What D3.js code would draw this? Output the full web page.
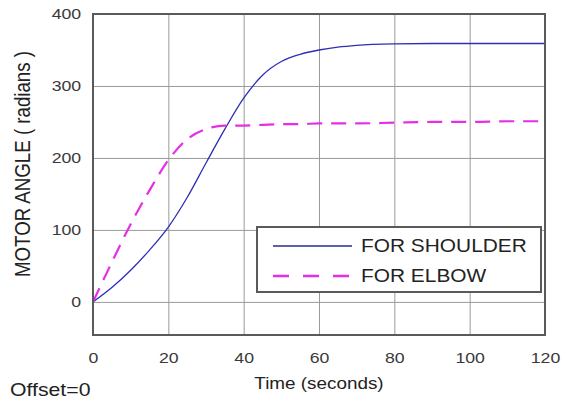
<!DOCTYPE html>
<html>
<head>
<meta charset="utf-8">
<script src="https://cdn.jsdelivr.net/npm/d3@7"></script>
<style>
  body { margin: 0; background: #fff; }
  svg { display: block; font-family: "Liberation Sans", Arial, sans-serif; }
  .grid line { stroke: #9a9a9a; stroke-width: 1; }
  .grid path { display: none; }
  .axis path, .axis line { display: none; }
  .axis text { fill: #3a3a3a; font-size: 15px; }
</style>
</head>
<body>
<svg id="chart"></svg>
<script>
// Data
const time     = [0, 5, 10, 15, 20, 25, 30, 35, 40, 45, 50, 55, 60, 65, 70, 80, 90, 100, 110, 120];
const shoulder = [0, 20, 44, 72, 104, 145, 193, 240, 283, 315, 334, 344, 350, 354, 356.5, 358.5, 359, 359, 359, 359];
const elbow    = [0, 55, 108, 155, 197, 226, 240, 245, 245, 246, 247, 247, 248, 248, 248, 249, 250, 250, 251, 251];
const xTicks = [0, 20, 40, 60, 80, 100, 120];
const yTicks = [0, 100, 200, 300, 400];
const seriesNames = ['FOR SHOULDER', 'FOR ELBOW'];

const config = {
  width: 571, height: 400,
  margin: {top: 14, right: 26, bottom: 65, left: 93}
};
const stretch = 1.18; // text in the picture is a bit wide

const svg = d3.select('#chart')
    .attr('width', config.width)
    .attr('height', config.height);

const w = config.width - config.margin.left - config.margin.right;
const h = config.height - config.margin.top - config.margin.bottom;

const chart = svg.append('g')
    .attr('transform', `translate(${config.margin.left},${config.margin.top})`);

const xScale = d3.scaleLinear().domain([0, 120]).range([0, w]);
const yScale = d3.scaleLinear().domain([-46, 400]).range([h, 0]);

// grid
chart.append('g')
    .attr('class', 'grid')
    .attr('transform', `translate(0,${h})`)
    .call(d3.axisBottom(xScale).tickValues(xTicks).tickSize(-h).tickFormat(''));
chart.append('g')
    .attr('class', 'grid')
    .call(d3.axisLeft(yScale).tickValues(yTicks).tickSize(-w).tickFormat(''));

// tick labels
const xAxisG = chart.append('g')
    .attr('class', 'axis')
    .attr('transform', `translate(0,${h})`)
    .call(d3.axisBottom(xScale).tickValues(xTicks).tickSize(0).tickPadding(17));
xAxisG.selectAll('text').attr('transform', `scale(${stretch},1)`);

const yAxisG = chart.append('g')
    .attr('class', 'axis')
    .call(d3.axisLeft(yScale).tickValues(yTicks).tickSize(0).tickPadding(10));
yAxisG.selectAll('text').attr('transform', `scale(${stretch},1)`);

// lines
const line = vals => d3.line()
    .x((d, i) => xScale(time[i]))
    .y(d => yScale(d))
    .curve(d3.curveMonotoneX)(vals);

chart.append('path')
    .attr('d', line(shoulder))
    .attr('fill', 'none')
    .attr('stroke', '#2e2eb8')
    .attr('stroke-width', 1.3);

chart.append('path')
    .attr('d', line(elbow))
    .attr('fill', 'none')
    .attr('stroke', '#e62ee6')
    .attr('stroke-width', 2.2)
    .attr('stroke-dasharray', '15,9');

// box
chart.append('rect')
    .attr('width', w)
    .attr('height', h)
    .attr('fill', 'none')
    .attr('stroke', '#5a5a5a')
    .attr('stroke-width', 2);

// legend
const legend = chart.append('g')
    .attr('transform', `translate(${257 - config.margin.left},${227 - config.margin.top})`);
legend.append('rect')
    .attr('width', 284)
    .attr('height', 65)
    .attr('fill', '#fff')
    .attr('stroke', '#5a5a5a')
    .attr('stroke-width', 2);
const styles = [
  {stroke: '#2a2a90', width: 1.4, dash: null},
  {stroke: '#e62ee6', width: 2.4, dash: '16,14'}
];
seriesNames.forEach((name, i) => {
  const yy = 19 + i * 30;
  legend.append('line')
      .attr('x1', 16).attr('x2', 95)
      .attr('y1', yy).attr('y2', yy)
      .attr('stroke', styles[i].stroke)
      .attr('stroke-width', styles[i].width)
      .attr('stroke-dasharray', styles[i].dash);
  legend.append('text')
      .attr('transform', `translate(104,${yy + 6}) scale(${stretch},1)`)
      .attr('font-size', '17.7px')
      .attr('fill', '#222')
      .text(name);
});

// axis titles
svg.append('text')
    .attr('transform', `translate(${config.margin.left + w / 2},389) scale(${stretch},1)`)
    .attr('text-anchor', 'middle')
    .attr('font-size', '16px')
    .attr('fill', '#222')
    .text('Time (seconds)');

svg.append('text')
    .attr('transform', `translate(30,164) scale(${stretch},1) rotate(-90)`)
    .attr('text-anchor', 'middle')
    .attr('font-size', '18.7px')
    .attr('fill', '#222')
    .text('MOTOR ANGLE ( radians )');

svg.append('text')
    .attr('transform', `translate(10,396) scale(${stretch},1)`)
    .attr('font-size', '18px')
    .attr('fill', '#222')
    .text('Offset=0');
</script>
</body>
</html>
